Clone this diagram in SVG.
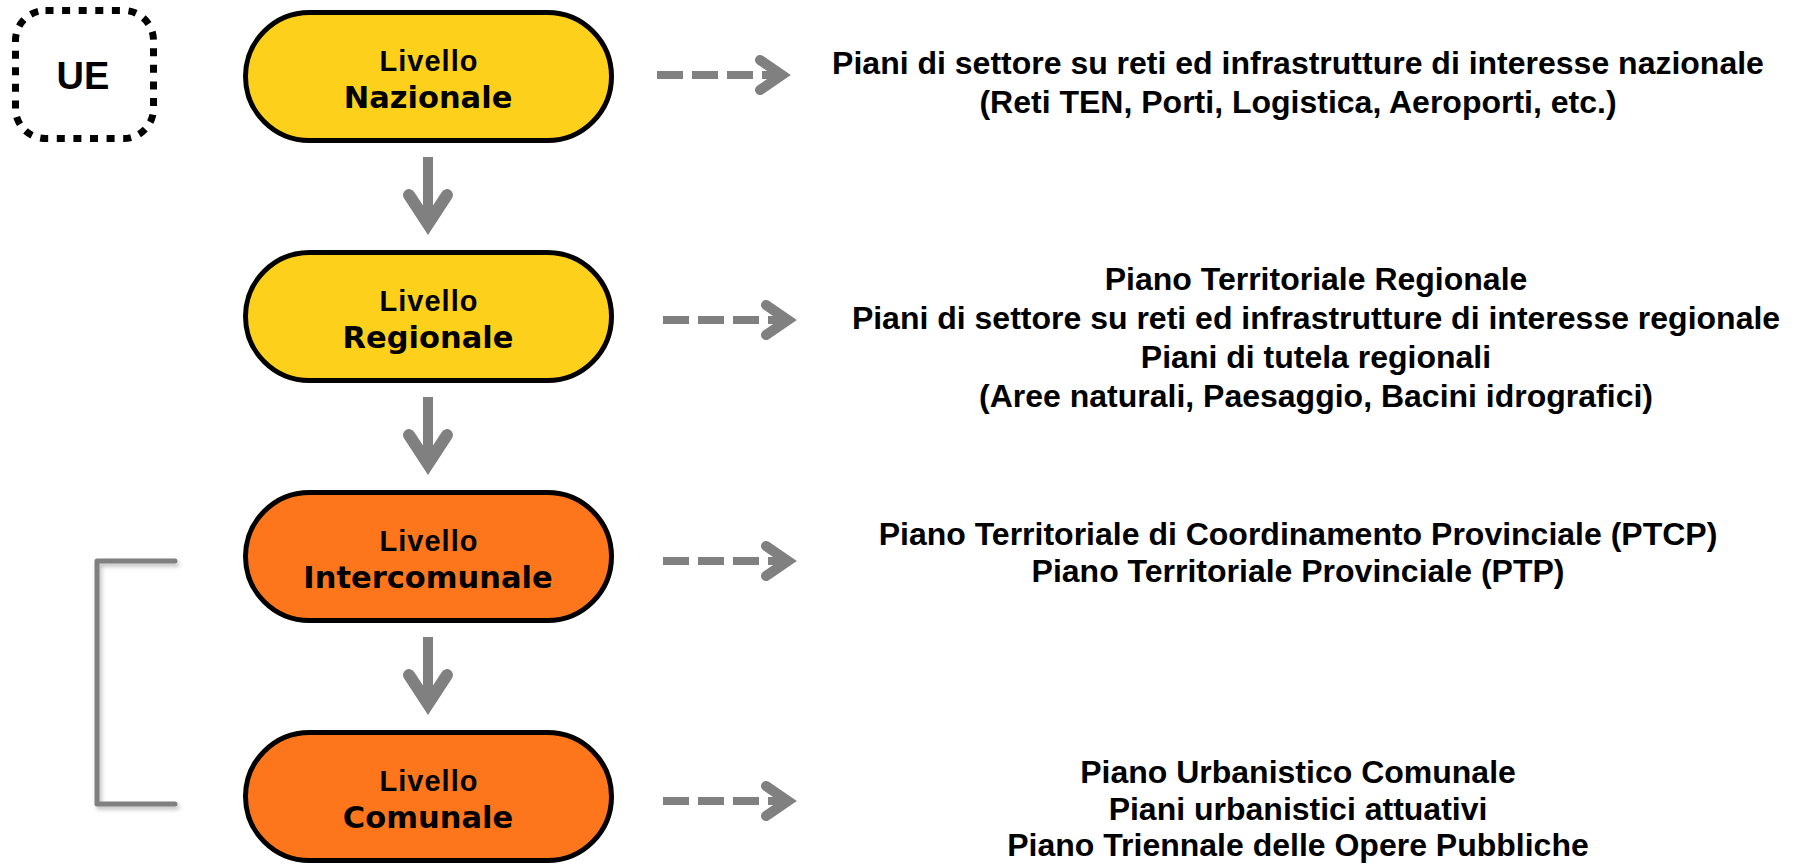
<svg xmlns="http://www.w3.org/2000/svg" width="1800" height="866" viewBox="0 0 1800 866">
<style>
.lvl1{font-family:"Liberation Sans",Arial,sans-serif;font-weight:bold;font-size:29px;letter-spacing:1px;text-anchor:middle;fill:#000}
.lvl2{font-family:"DejaVu Sans",Verdana,sans-serif;font-weight:bold;font-size:30.5px;text-anchor:middle;fill:#000}
.plan{font-family:"Liberation Sans",Arial,sans-serif;font-weight:bold;font-size:32px;text-anchor:middle;fill:#000}
.ue{font-family:"Liberation Sans",Arial,sans-serif;font-weight:bold;font-size:38px;text-anchor:middle;fill:#000}
.node{stroke:#000;stroke-width:5}
.yellow{fill:#FDD11B}
.orange{fill:#FD761C}
.gray{stroke:#808080;fill:none}
</style>
<defs>
<filter id="sh" x="-30%" y="-10%" width="160%" height="120%">
<feDropShadow dx="2" dy="3" stdDeviation="2" flood-color="#000" flood-opacity="0.25"/>
</filter>
<g id="down">
<line class="gray" x1="0" y1="0" x2="0" y2="60" stroke-width="10"/>
<polyline class="gray" points="-19,38 0,67 19,38" stroke-width="12" stroke-linecap="round" stroke-linejoin="miter"/>
</g>
<g id="dash">
<line class="gray" x1="0" y1="0" x2="118" y2="0" stroke-width="8" stroke-dasharray="26 9"/>
<polyline class="gray" points="103,-15 125,0 103,15" stroke-width="10" stroke-linecap="round" stroke-linejoin="miter"/>
</g>
</defs>

<g id="ue">
<rect x="15.5" y="10.5" width="138" height="128" rx="30" fill="none" stroke="#000" stroke-width="7" stroke-dasharray="8 8.6"/>
<text class="ue" x="83" y="89">UE</text>
</g>

<g id="nazionale">
<rect class="node yellow" x="245.5" y="12.5" width="366" height="128" rx="64"/>
<text class="lvl1" x="429" y="71">Livello</text>
<text class="lvl2" x="428" y="108">Nazionale</text>
</g>
<g id="regionale">
<rect class="node yellow" x="245.5" y="252.5" width="366" height="128" rx="64"/>
<text class="lvl1" x="429" y="311">Livello</text>
<text class="lvl2" x="428" y="348">Regionale</text>
</g>
<g id="intercomunale">
<rect class="node orange" x="245.5" y="492.5" width="366" height="128" rx="64"/>
<text class="lvl1" x="429" y="551">Livello</text>
<text class="lvl2" x="428" y="588">Intercomunale</text>
</g>
<g id="comunale">
<rect class="node orange" x="245.5" y="732.5" width="366" height="128" rx="64"/>
<text class="lvl1" x="429" y="791">Livello</text>
<text class="lvl2" x="428" y="828">Comunale</text>
</g>

<g id="connectors">
<use href="#down" x="428" y="157"/>
<use href="#down" x="428" y="397"/>
<use href="#down" x="428" y="637"/>
<use href="#dash" x="657" y="75"/>
<use href="#dash" x="663" y="320"/>
<use href="#dash" x="663" y="561"/>
<use href="#dash" x="663" y="801"/>
<path class="gray" d="M175,561 H97 V804 H175" stroke-width="5" stroke-linecap="round" stroke-linejoin="round" filter="url(#sh)"/>
</g>

<g id="plans-nazionale">
<text class="plan" x="1298" y="74">Piani di settore su reti ed infrastrutture di interesse nazionale</text>
<text class="plan" x="1298" y="113">(Reti TEN, Porti, Logistica, Aeroporti, etc.)</text>
</g>
<g id="plans-regionale">
<text class="plan" x="1316" y="290">Piano Territoriale Regionale</text>
<text class="plan" x="1316" y="329">Piani di settore su reti ed infrastrutture di interesse regionale</text>
<text class="plan" x="1316" y="368">Piani di tutela regionali</text>
<text class="plan" x="1316" y="407">(Aree naturali, Paesaggio, Bacini idrografici)</text>
</g>
<g id="plans-intercomunale">
<text class="plan" x="1298" y="545">Piano Territoriale di Coordinamento Provinciale (PTCP)</text>
<text class="plan" x="1298" y="582">Piano Territoriale Provinciale (PTP)</text>
</g>
<g id="plans-comunale">
<text class="plan" x="1298" y="783">Piano Urbanistico Comunale</text>
<text class="plan" x="1298" y="820">Piani urbanistici attuativi</text>
<text class="plan" x="1298" y="856">Piano Triennale delle Opere Pubbliche</text>
</g>
</svg>
